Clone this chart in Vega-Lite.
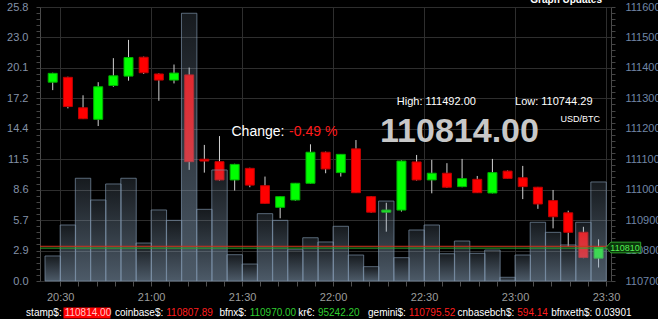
{
  "$schema": "https://vega.github.io/schema/vega-lite/v6.json",
  "width": 571,
  "height": 274,
  "autosize": {"type": "none"},
  "padding": {"left": 40, "top": 7, "right": 47, "bottom": 38},
  "background": "#000000",
  "config": {
    "view": {"stroke": "#4a4a4a", "strokeWidth": 1},
    "font": "Liberation Sans",
    "axis": {"labelFont": "Liberation Sans", "labelFontSize": 11, "domain": false, "tickColor": "#4a4a4a", "labelOverlap": false},
    "text": {"font": "Liberation Sans"}
  },
  "datasets": {
    "candles": [
      {"t":"2025-01-01T20:25:00Z","open":111353,"high":111384,"low":111327,"close":111382,"volume":2.36},
      {"t":"2025-01-01T20:30:00Z","open":111369,"high":111371,"low":111267,"close":111273,"volume":5.28},
      {"t":"2025-01-01T20:35:00Z","open":111269,"high":111310,"low":111232,"close":111233,"volume":9.69},
      {"t":"2025-01-01T20:40:00Z","open":111231,"high":111353,"low":111209,"close":111338,"volume":7.64},
      {"t":"2025-01-01T20:45:00Z","open":111342,"high":111432,"low":111338,"close":111374,"volume":9.15},
      {"t":"2025-01-01T20:50:00Z","open":111373,"high":111492,"low":111358,"close":111434,"volume":9.69},
      {"t":"2025-01-01T20:55:00Z","open":111435,"high":111437,"low":111380,"close":111384,"volume":3.58},
      {"t":"2025-01-01T21:00:00Z","open":111380,"high":111382,"low":111292,"close":111360,"volume":6.70},
      {"t":"2025-01-01T21:05:00Z","open":111360,"high":111411,"low":111349,"close":111383,"volume":5.72},
      {"t":"2025-01-01T21:10:00Z","open":111377,"high":111401,"low":111065,"close":111092,"volume":25.25},
      {"t":"2025-01-01T21:15:00Z","open":111100,"high":111147,"low":111056,"close":111094,"volume":6.76},
      {"t":"2025-01-01T21:20:00Z","open":111092,"high":111176,"low":111030,"close":111032,"volume":10.47},
      {"t":"2025-01-01T21:25:00Z","open":111032,"high":111085,"low":110997,"close":111083,"volume":2.48},
      {"t":"2025-01-01T21:30:00Z","open":111070,"high":111072,"low":111008,"close":111015,"volume":1.60},
      {"t":"2025-01-01T21:35:00Z","open":111013,"high":111043,"low":110954,"close":110955,"volume":6.35},
      {"t":"2025-01-01T21:40:00Z","open":110942,"high":110978,"low":110906,"close":110977,"volume":5.72},
      {"t":"2025-01-01T21:45:00Z","open":110966,"high":111022,"low":110964,"close":111021,"volume":2.95},
      {"t":"2025-01-01T21:50:00Z","open":111021,"high":111149,"low":111020,"close":111123,"volume":4.08},
      {"t":"2025-01-01T21:55:00Z","open":111123,"high":111125,"low":111054,"close":111068,"volume":3.68},
      {"t":"2025-01-01T22:00:00Z","open":111056,"high":111117,"low":111043,"close":111116,"volume":5.16},
      {"t":"2025-01-01T22:05:00Z","open":111134,"high":111163,"low":110989,"close":110990,"volume":2.45},
      {"t":"2025-01-01T22:10:00Z","open":110977,"high":110979,"low":110924,"close":110926,"volume":1.35},
      {"t":"2025-01-01T22:15:00Z","open":110926,"high":110957,"low":110862,"close":110933,"volume":7.54},
      {"t":"2025-01-01T22:20:00Z","open":110933,"high":111096,"low":110928,"close":111094,"volume":2.20},
      {"t":"2025-01-01T22:25:00Z","open":111091,"high":111114,"low":111030,"close":111032,"volume":4.81},
      {"t":"2025-01-01T22:30:00Z","open":111032,"high":111098,"low":110988,"close":111054,"volume":5.28},
      {"t":"2025-01-01T22:35:00Z","open":111054,"high":111087,"low":111006,"close":111008,"volume":2.57},
      {"t":"2025-01-01T22:40:00Z","open":111010,"high":111101,"low":111008,"close":111036,"volume":3.77},
      {"t":"2025-01-01T22:45:00Z","open":111034,"high":111045,"low":110989,"close":110990,"volume":2.61},
      {"t":"2025-01-01T22:50:00Z","open":110989,"high":111101,"low":110988,"close":111056,"volume":2.92},
      {"t":"2025-01-01T22:55:00Z","open":111061,"high":111063,"low":111036,"close":111037,"volume":0.35},
      {"t":"2025-01-01T23:00:00Z","open":111039,"high":111078,"low":110969,"close":111010,"volume":2.45},
      {"t":"2025-01-01T23:05:00Z","open":111008,"high":111009,"low":110937,"close":110953,"volume":5.54},
      {"t":"2025-01-01T23:10:00Z","open":110964,"high":110999,"low":110873,"close":110911,"volume":4.59},
      {"t":"2025-01-01T23:15:00Z","open":110924,"high":110931,"low":110813,"close":110860,"volume":3.40},
      {"t":"2025-01-01T23:20:00Z","open":110860,"high":110878,"low":110775,"close":110777,"volume":5.54},
      {"t":"2025-01-01T23:25:00Z","open":110775,"high":110837,"low":110744.29,"close":110810,"volume":9.34}
    ],
    "stats": [
      {"high": 111492.00, "low": 110744.29, "last": 110814.00, "current": 110810, "change": -0.49, "pair": "USD/BTC"}
    ],
    "ticker": [
      {"name":"stamp$:","price":"110814.00","move":"down"},
      {"name":"coinbase$:","price":"110807.89","move":"down"},
      {"name":"bfnx$:","price":"110970.00","move":"up"},
      {"name":"kr€:","price":"95242.20","move":"up"},
      {"name":"gemini$:","price":"110795.52","move":"down"},
      {"name":"cnbasebch$:","price":"594.14","move":"down"},
      {"name":"bfnxeth$:","price":"0.03901","move":"flat"}
    ]
  },
  "resolve": {"scale": {"y": "independent"}, "axis": {"y": "independent", "x": "independent"}},
  "layer": [
    {
      "data": {"name": "candles"},
      "mark": {"type": "rule", "xOffset": 7.715, "color": "#d2d2d2", "strokeWidth": 1},
      "encoding": {
        "x": {
          "field": "t", "type": "temporal", "title": null,
          "scale": {"type": "utc", "nice": false, "domain": [1735763100000, 1735774200000]},
          "axis": {
            "title": null,
            "values": [1735763400000,1735763760000,1735764120000,1735764480000,1735764840000,1735765200000,1735765560000,1735765920000,1735766280000,1735766640000,1735767000000,1735767360000,1735767720000,1735768080000,1735768440000,1735768800000,1735769160000,1735769520000,1735769880000,1735770240000,1735770600000,1735770960000,1735771320000,1735771680000,1735772040000,1735772400000,1735772760000,1735773120000,1735773480000,1735773840000,1735774200000],
            "labelExpr": "utcminutes(datum.value) % 30 === 0 ? utcFormat(datum.value, '%H:%M') : ''",
            "labelFlush": false, "labelOverlap": false,
            "labelColor": "#9c9c9c", "labelFontSize": 11, "labelPadding": 5,
            "tickSize": 5, "tickColor": "#505050",
            "grid": true,
            "gridColor": {"condition": {"test": "utcminutes(datum.value) % 30 === 0", "value": "#2e2e2e"}, "value": "rgba(0,0,0,0)"}
          }
        },
        "y": {
          "field": "low", "type": "quantitative",
          "scale": {"domain": [110700, 111600], "zero": false, "nice": false},
          "axis": {
            "orient": "right", "title": null, "grid": false,
            "values": [110700,110720,110740,110760,110780,110800,110820,110840,110860,110880,110900,110920,110940,110960,110980,111000,111020,111040,111060,111080,111100,111120,111140,111160,111180,111200,111220,111240,111260,111280,111300,111320,111340,111360,111380,111400,111420,111440,111460,111480,111500,111520,111540,111560,111580,111600],
            "labelExpr": "datum.value % 100 === 0 ? format(datum.value, 'd') : ''",
            "labelOverlap": false, "labelColor": "#7086a6", "labelPadding": 10, "tickSize": 4, "tickColor": "#454545"
          }
        },
        "y2": {"field": "high"}
      }
    },
    {
      "data": {"name": "candles"},
      "mark": {"type": "bar", "size": 9, "xOffset": 7.715, "strokeWidth": 1},
      "encoding": {
        "x": {"field": "t", "type": "temporal", "axis": null},
        "y": {"field": "open", "type": "quantitative", "scale": {"domain": [110700, 111600], "zero": false, "nice": false}, "axis": null},
        "y2": {"field": "close"},
        "fill": {"condition": {"test": "datum.close >= datum.open", "value": "#00ff00"}, "value": "#ff0000"},
        "stroke": {"condition": {"test": "datum.close >= datum.open", "value": "#00b400"}, "value": "#c00000"}
      }
    },
    {
      "data": {"name": "candles"},
      "mark": {
        "type": "bar", "size": 15.43, "xOffset": 7.715,
        "fill": {"gradient": "linear", "x1": 0, "y1": 0, "x2": 0, "y2": 1,
          "stops": [{"offset": 0, "color": "rgba(140,165,190,0.16)"}, {"offset": 1, "color": "rgba(140,165,190,0.55)"}]},
        "stroke": "#7a90a6", "strokeOpacity": 0.7, "strokeWidth": 1
      },
      "encoding": {
        "x": {"field": "t", "type": "temporal", "axis": null},
        "y": {
          "field": "volume", "type": "quantitative",
          "scale": {"domain": [0, 25.8408], "nice": false, "zero": true},
          "axis": {
            "orient": "left", "title": null,
            "values": [0,0.57424,1.14848,1.72272,2.29696,2.8712,3.44544,4.01968,4.59392,5.16816,5.7424,6.31664,6.89088,7.46512,8.03936,8.6136,9.18784,9.76208,10.33632,10.91056,11.4848,12.05904,12.63328,13.20752,13.78176,14.356,14.93024,15.50448,16.07872,16.65296,17.2272,17.80144,18.37568,18.94992,19.52416,20.0984,20.67264,21.24688,21.82112,22.39536,22.9696,23.54384,24.11808,24.69232,25.26656,25.8408],
            "labelExpr": "abs(datum.value / 2.8712 - round(datum.value / 2.8712)) < 0.001 ? format(datum.value, '.1f') : ''",
            "labelOverlap": false, "labelColor": "#8492a8", "labelPadding": 8, "tickSize": 4, "tickColor": "#454545",
            "grid": true,
            "gridColor": {"condition": {"test": "abs(datum.value / 2.8712 - round(datum.value / 2.8712)) < 0.001", "value": "#2e2e2e"}, "value": "rgba(0,0,0,0)"}
          }
        }
      }
    },
    {
      "data": {"name": "stats"},
      "layer": [
        {
          "mark": {"type": "rule", "color": "#d0341c", "strokeWidth": 1},
          "encoding": {"y": {"field": "last", "type": "quantitative", "scale": {"domain": [110700, 111600], "zero": false, "nice": false}, "axis": null}}
        },
        {
          "mark": {"type": "rule", "color": "#2ca82c", "strokeWidth": 1, "yOffset": 0.6},
          "encoding": {"y": {"field": "current", "type": "quantitative", "axis": null}}
        },
        {
          "mark": {"type": "point", "filled": true, "shape": "M-1,0L-0.72,-0.308L1,-0.308L1,0.308L-0.72,0.308Z", "size": 1204, "xOffset": 17.35, "fill": "#0b360b", "stroke": "#2da52d", "strokeWidth": 1, "opacity": 1},
          "encoding": {
            "x": {"datum": 1735774200000, "type": "temporal", "axis": null},
            "y": {"field": "current", "type": "quantitative", "axis": null}
          }
        },
        {
          "mark": {"type": "text", "align": "center", "xOffset": 19, "fontSize": 9, "color": "#55f055"},
          "encoding": {
            "x": {"datum": 1735774200000, "type": "temporal", "axis": null},
            "y": {"field": "current", "type": "quantitative", "axis": null},
            "text": {"field": "current", "format": "d"}
          }
        },
        {
          "mark": {"type": "text", "align": "left", "fontSize": 14, "color": "#ffffff"},
          "encoding": {
            "x": {"datum": 1735766790000, "type": "temporal", "axis": null},
            "y": {"datum": 111190, "type": "quantitative", "axis": null},
            "text": {"value": "Change:"}
          }
        },
        {
          "mark": {"type": "text", "align": "left", "fontSize": 14, "color": "#ff1a1a"},
          "encoding": {
            "x": {"datum": 1735767930000, "type": "temporal", "axis": null},
            "y": {"datum": 111190, "type": "quantitative", "axis": null},
            "text": {"value": "-0.49 %"}
          }
        },
        {
          "mark": {"type": "text", "align": "left", "fontSize": 11, "color": "#ffffff"},
          "encoding": {
            "x": {"datum": 1735770060000, "type": "temporal", "axis": null},
            "y": {"datum": 111289, "type": "quantitative", "axis": null},
            "text": {"value": "High: 111492.00"}
          }
        },
        {
          "mark": {"type": "text", "align": "left", "fontSize": 11, "color": "#ffffff"},
          "encoding": {
            "x": {"datum": 1735772400000, "type": "temporal", "axis": null},
            "y": {"datum": 111289, "type": "quantitative", "axis": null},
            "text": {"value": "Low: 110744.29"}
          }
        },
        {
          "mark": {"type": "text", "align": "left", "fontSize": 34, "fontWeight": "bold", "color": "#c8c8c8"},
          "encoding": {
            "x": {"datum": 1735769730000, "type": "temporal", "axis": null},
            "y": {"datum": 111188, "type": "quantitative", "axis": null},
            "text": {"field": "last", "format": ".2f"}
          }
        },
        {
          "mark": {"type": "text", "align": "left", "fontSize": 9, "color": "#ffffff"},
          "encoding": {
            "x": {"datum": 1735773300000, "type": "temporal", "axis": null},
            "y": {"datum": 111231, "type": "quantitative", "axis": null},
            "text": {"field": "pair"}
          }
        },
        {
          "mark": {"type": "text", "align": "right", "xOffset": -4, "fontSize": 10, "fontWeight": "bold", "color": "#ffffff"},
          "encoding": {
            "x": {"datum": 1735774200000, "type": "temporal", "axis": null},
            "y": {"datum": 111624, "type": "quantitative", "axis": null},
            "text": {"value": "Graph Updates"}
          }
        },
        {
          "data": {"name": "ticker"},
          "transform": [{"filter": "datum.name === 'stamp$:'"}],
          "encoding": {
            "x": {"datum": 1735763430000, "type": "temporal", "axis": null},
            "y": {"datum": 110595, "type": "quantitative", "axis": null}
          },
          "layer": [
            {"mark": {"type": "text", "align": "right", "fontSize": 10, "color": "#ffffff"}, "encoding": {"text": {"field": "name"}}},
            {"mark": {"type": "point", "filled": true, "shape": "M-1,-0.234H1V0.234H-1Z", "size": 2209, "xOffset": 25.3, "fill": "#ff0000", "opacity": 1, "strokeWidth": 0}},
            {"mark": {"type": "text", "align": "left", "xOffset": 3, "fontSize": 10, "color": "#ffc8c8"}, "encoding": {"text": {"field": "price"}}}
          ]
        },
        {
          "data": {"name": "ticker"},
          "transform": [{"filter": "datum.name === 'coinbase$:'"}],
          "encoding": {
            "x": {"datum": 1735765440000, "type": "temporal", "axis": null},
            "y": {"datum": 110595, "type": "quantitative", "axis": null}
          },
          "layer": [
            {"mark": {"type": "text", "align": "right", "fontSize": 10, "color": "#ffffff"}, "encoding": {"text": {"field": "name"}}},
            {"mark": {"type": "text", "align": "left", "xOffset": 3, "fontSize": 10}, "encoding": {"text": {"field": "price"}, "color": {"condition": [{"test": "datum.move === 'up'", "value": "#2fcc2f"}, {"test": "datum.move === 'down'", "value": "#ff1e1e"}], "value": "#ffffff"}}}
          ]
        },
        {
          "data": {"name": "ticker"},
          "transform": [{"filter": "datum.name === 'bfnx$:'"}],
          "encoding": {
            "x": {"datum": 1735767090000, "type": "temporal", "axis": null},
            "y": {"datum": 110595, "type": "quantitative", "axis": null}
          },
          "layer": [
            {"mark": {"type": "text", "align": "right", "fontSize": 10, "color": "#ffffff"}, "encoding": {"text": {"field": "name"}}},
            {"mark": {"type": "text", "align": "left", "xOffset": 3, "fontSize": 10}, "encoding": {"text": {"field": "price"}, "color": {"condition": [{"test": "datum.move === 'up'", "value": "#2fcc2f"}, {"test": "datum.move === 'down'", "value": "#ff1e1e"}], "value": "#ffffff"}}}
          ]
        },
        {
          "data": {"name": "ticker"},
          "transform": [{"filter": "datum.name === 'kr€:'"}],
          "encoding": {
            "x": {"datum": 1735768440000, "type": "temporal", "axis": null},
            "y": {"datum": 110595, "type": "quantitative", "axis": null}
          },
          "layer": [
            {"mark": {"type": "text", "align": "right", "fontSize": 10, "color": "#ffffff"}, "encoding": {"text": {"field": "name"}}},
            {"mark": {"type": "text", "align": "left", "xOffset": 3, "fontSize": 10}, "encoding": {"text": {"field": "price"}, "color": {"condition": [{"test": "datum.move === 'up'", "value": "#2fcc2f"}, {"test": "datum.move === 'down'", "value": "#ff1e1e"}], "value": "#ffffff"}}}
          ]
        },
        {
          "data": {"name": "ticker"},
          "transform": [{"filter": "datum.name === 'gemini$:'"}],
          "encoding": {
            "x": {"datum": 1735770240000, "type": "temporal", "axis": null},
            "y": {"datum": 110595, "type": "quantitative", "axis": null}
          },
          "layer": [
            {"mark": {"type": "text", "align": "right", "fontSize": 10, "color": "#ffffff"}, "encoding": {"text": {"field": "name"}}},
            {"mark": {"type": "text", "align": "left", "xOffset": 3, "fontSize": 10}, "encoding": {"text": {"field": "price"}, "color": {"condition": [{"test": "datum.move === 'up'", "value": "#2fcc2f"}, {"test": "datum.move === 'down'", "value": "#ff1e1e"}], "value": "#ffffff"}}}
          ]
        },
        {
          "data": {"name": "ticker"},
          "transform": [{"filter": "datum.name === 'cnbasebch$:'"}],
          "encoding": {
            "x": {"datum": 1735772385000, "type": "temporal", "axis": null},
            "y": {"datum": 110595, "type": "quantitative", "axis": null}
          },
          "layer": [
            {"mark": {"type": "text", "align": "right", "fontSize": 10, "color": "#ffffff"}, "encoding": {"text": {"field": "name"}}},
            {"mark": {"type": "text", "align": "left", "xOffset": 3, "fontSize": 10}, "encoding": {"text": {"field": "price"}, "color": {"condition": [{"test": "datum.move === 'up'", "value": "#2fcc2f"}, {"test": "datum.move === 'down'", "value": "#ff1e1e"}], "value": "#ffffff"}}}
          ]
        },
        {
          "data": {"name": "ticker"},
          "transform": [{"filter": "datum.name === 'bfnxeth$:'"}],
          "encoding": {
            "x": {"datum": 1735773930000, "type": "temporal", "axis": null},
            "y": {"datum": 110595, "type": "quantitative", "axis": null}
          },
          "layer": [
            {"mark": {"type": "text", "align": "right", "fontSize": 10, "color": "#ffffff"}, "encoding": {"text": {"field": "name"}}},
            {"mark": {"type": "text", "align": "left", "xOffset": 3, "fontSize": 10}, "encoding": {"text": {"field": "price"}, "color": {"condition": [{"test": "datum.move === 'up'", "value": "#2fcc2f"}, {"test": "datum.move === 'down'", "value": "#ff1e1e"}], "value": "#ffffff"}}}
          ]
        }
      ]
    }
  ]
}
